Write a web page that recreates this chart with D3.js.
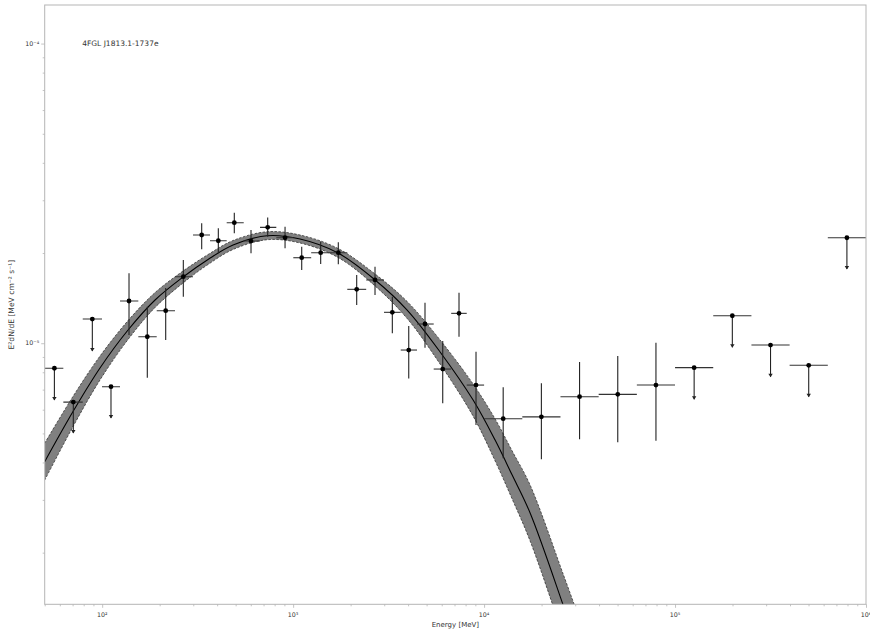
<!DOCTYPE html>
<html>
<head>
<meta charset="utf-8">
<title></title>
<script src="https://cdnjs.cloudflare.com/ajax/libs/d3/7.8.5/d3.min.js"></script>
<style>
  body { margin: 0; background: #fff; }
  svg { display: block; }
  text { font-family: "DejaVu Sans", sans-serif; fill: #333; }
</style>
</head>
<body>
<script>

// SED points (energy bin centre and edges in MeV, E^2 dN/dE in MeV cm^-2 s^-1)
const energy = [56.2, 70.6, 88.8, 111.2, 138.2, 172.3, 215.1, 266.0, 332.0, 405.7, 491.9, 601.7,
  735.8, 907.1, 1109, 1394, 1724, 2152, 2684, 3307, 4031, 4904, 6073, 7390, 9072,
  12589, 19953, 31623, 50119, 79433, 125893, 199526, 316228, 501187, 794328];
const eLow = [50.2, 62.6, 79.1, 99.8, 124.0, 154.6, 193.0, 240.6, 299.0, 367.0, 448.8, 551.1,
  670.8, 816.3, 1002, 1243, 1536, 1921, 2413, 2991, 3660, 4453, 5447, 6726, 8110,
  10000, 15849, 25119, 39811, 63096, 100000, 158489, 251189, 398107, 630957];
const eHigh = [62.6, 79.1, 99.8, 124.0, 154.6, 193.0, 240.6, 299.0, 367.0, 448.8, 551.1, 670.8,
  816.3, 1002, 1243, 1536, 1921, 2413, 2991, 3660, 4453, 5447, 6726, 8110, 10000,
  15849, 25119, 39811, 63096, 100000, 158489, 251189, 398107, 630957, 1000000];
const flux = [8.25e-6, 6.36e-6, 1.204e-5, 7.16e-6, 1.383e-5, 1.051e-5, 1.284e-5, 1.667e-5,
  2.297e-5, 2.198e-5, 2.525e-5, 2.193e-5, 2.436e-5, 2.249e-5, 1.929e-5, 2.005e-5, 2.005e-5,
  1.513e-5, 1.626e-5, 1.268e-5, 9.49e-6, 1.159e-5, 8.20e-6, 1.258e-5, 7.25e-6,
  5.60e-6, 5.68e-6, 6.63e-6, 6.75e-6, 7.25e-6, 8.29e-6, 1.235e-5, 9.86e-6, 8.44e-6, 2.249e-5];
// lower end of the error bar (or tip of the arrow for upper limits)
const fluxLo = [6.46e-6, 5.02e-6, 9.42e-6, 5.63e-6, 1.065e-5, 7.67e-6, 1.025e-5, 1.429e-5,
  2.058e-5, 1.995e-5, 2.327e-5, 1.995e-5, 2.267e-5, 2.074e-5, 1.755e-5, 1.838e-5, 1.834e-5,
  1.341e-5, 1.448e-5, 1.079e-5, 7.63e-6, 9.66e-6, 6.30e-6, 1.051e-5, 5.33e-6,
  4.13e-6, 4.10e-6, 4.78e-6, 4.67e-6, 4.73e-6, 6.50e-6, 9.69e-6, 7.73e-6, 6.63e-6, 1.768e-5];
// upper end of the error bar, null for upper limits
const fluxHi = [null, null, null, null, 1.711e-5, 1.324e-5, 1.529e-5, 1.895e-5,
  2.513e-5, 2.418e-5, 2.726e-5, 2.387e-5, 2.630e-5, 2.448e-5, 2.100e-5, 2.182e-5, 2.172e-5,
  1.689e-5, 1.800e-5, 1.429e-5, 1.141e-5, 1.365e-5, 1.017e-5, 1.474e-5, 9.37e-6,
  7.13e-6, 7.35e-6, 8.66e-6, 9.06e-6, 1.004e-5, null, null, null, null, null];

// model curve and its 1 sigma band
const modelE = [50.0, 70.6, 97.4, 136.6, 189.2, 265.2, 358.4, 484.6, 730.3, 1087, 1719, 2687,
  3954, 5884, 8761, 11420, 14030, 17420, 25940, 29990];
const modelF = [4.024e-6, 5.94e-6, 8.27e-6, 1.107e-5, 1.394e-5, 1.663e-5, 1.903e-5, 2.127e-5,
  2.284e-5, 2.227e-5, 2.000e-5, 1.626e-5, 1.290e-5, 9.35e-6, 6.46e-6, 4.75e-6, 3.63e-6,
  2.713e-6, 1.338e-6, 1.022e-6];
const modelLo = [3.49e-6, 5.29e-6, 7.54e-6, 1.029e-5, 1.316e-5, 1.589e-5, 1.831e-5, 2.055e-5,
  2.215e-5, 2.160e-5, 1.932e-5, 1.552e-5, 1.209e-5, 8.52e-6, 5.71e-6, 4.05e-6, 3.02e-6,
  2.188e-6, 1.054e-6, 7.94e-7];
const modelHi = [4.64e-6, 6.67e-6, 9.06e-6, 1.190e-5, 1.476e-5, 1.742e-5, 1.977e-5, 2.202e-5,
  2.355e-5, 2.297e-5, 2.071e-5, 1.702e-5, 1.378e-5, 1.025e-5, 7.31e-6, 5.59e-6, 4.37e-6,
  3.363e-6, 1.698e-6, 1.317e-6];

const xTicks = [1e2, 1e3, 1e4, 1e5, 1e6];
const xTickLabels = ["10\u00b2", "10\u00b3", "10\u2074", "10\u2075", "10\u2076"];
const yTicks = [1e-5, 1e-4];
const yTickLabels = ["10\u207b\u2075", "10\u207b\u2074"];
const sourceName = "4FGL J1813.1-1737e";
const xTitle = "Energy [MeV]";
const yTitle = "E\u00b2dN/dE [MeV cm\u207b\u00b2 s\u207b\u00b9]";

let outerWidth = 870;
let outerHeight = 635;
let margin = { left: 44.7, top: 5, right: 4, bottom: 30.7 };
let innerWidth = outerWidth - margin.left - margin.right;
let innerHeight = outerHeight - margin.top - margin.bottom;

let svg = d3.select("body").append("svg")
  .attr("width", outerWidth)
  .attr("height", outerHeight);

let g = svg.append("g")
  .attr("transform", "translate(" + margin.left + "," + margin.top + ")");

let xScale = d3.scaleLog().domain([50, 1e6]).range([0, innerWidth]);
let yScale = d3.scaleLog().domain([1.345e-6, 1.345e-4]).range([innerHeight, 0]);

g.append("clipPath").attr("id", "clip")
  .append("rect").attr("width", innerWidth).attr("height", innerHeight);

let plot = g.append("g").attr("clip-path", "url(#clip)");

// model band
let model = modelE.map((e, i) => ({ e: e, f: modelF[i], lo: modelLo[i], hi: modelHi[i] }));

let area = d3.area()
  .x(d => xScale(d.e))
  .y0(d => yScale(d.lo))
  .y1(d => yScale(d.hi))
  .curve(d3.curveCatmullRom);

plot.append("path")
  .attr("d", area(model))
  .attr("fill", "#808080")
  .attr("stroke", "none");

["lo", "hi"].forEach(k => {
  plot.append("path")
    .attr("d", d3.line().x(d => xScale(d.e)).y(d => yScale(d[k])).curve(d3.curveCatmullRom)(model))
    .attr("fill", "none")
    .attr("stroke", "#222")
    .attr("stroke-width", 0.7)
    .attr("stroke-dasharray", "2.5,1.5");
});

plot.append("path")
  .attr("d", d3.line().x(d => xScale(d.e)).y(d => yScale(d.f)).curve(d3.curveCatmullRom)(model))
  .attr("fill", "none")
  .attr("stroke", "#000")
  .attr("stroke-width", 1.1);

// data points
let points = energy.map((e, i) => ({
  e: e, lo: eLow[i], hi: eHigh[i], f: flux[i], fLo: fluxLo[i], fHi: fluxHi[i], ul: fluxHi[i] === null
}));

let pts = plot.selectAll(".pt").data(points).enter().append("g").attr("class", "pt");

pts.append("line")
  .attr("x1", d => xScale(d.lo)).attr("x2", d => xScale(d.hi))
  .attr("y1", d => yScale(d.f)).attr("y2", d => yScale(d.f))
  .attr("stroke", "#333").attr("stroke-width", 1.1);

pts.append("line")
  .attr("x1", d => xScale(d.e)).attr("x2", d => xScale(d.e))
  .attr("y1", d => yScale(d.ul ? d.f : d.fHi)).attr("y2", d => yScale(d.fLo))
  .attr("stroke", "#222").attr("stroke-width", 1.1);

pts.filter(d => d.ul).append("path")
  .attr("d", d => {
    let x = xScale(d.e), y = yScale(d.fLo);
    return "M" + (x - 2.2) + "," + (y - 3) + "L" + (x + 2.2) + "," + (y - 3) + "L" + x + "," + (y + 0.5) + "Z";
  })
  .attr("fill", "#222");

pts.append("circle")
  .attr("cx", d => xScale(d.e)).attr("cy", d => yScale(d.f))
  .attr("r", 2.4).attr("fill", "#000");

// axes
let tickColor = "#b5b5b5";
let xMinor = [], yMinor = [];
[10, 100, 1000, 10000, 100000].forEach(d => {
  for (let k = 2; k <= 9; k++) if (d * k >= 50 && d * k < 1e6) xMinor.push(d * k);
});
[1e-6, 1e-5, 1e-4].forEach(d => {
  for (let k = 2; k <= 9; k++) if (d * k >= 1.345e-6 && d * k <= 1.345e-4) yMinor.push(d * k);
});

function styleAxis(sel) {
  sel.select(".domain").remove();
  sel.selectAll("line").attr("stroke", tickColor).attr("stroke-width", 0.8);
  sel.selectAll("text").remove();
}

g.append("g").attr("transform", "translate(0," + innerHeight + ")")
  .call(d3.axisBottom(xScale).tickValues(xTicks).tickSize(3.5).tickFormat("")).call(styleAxis);
g.append("g").attr("transform", "translate(0," + innerHeight + ")")
  .call(d3.axisBottom(xScale).tickValues(xMinor).tickSize(2).tickFormat("")).call(styleAxis);
g.append("g")
  .call(d3.axisLeft(yScale).tickValues(yTicks).tickSize(3.5).tickFormat("")).call(styleAxis);
g.append("g")
  .call(d3.axisLeft(yScale).tickValues(yMinor).tickSize(2).tickFormat("")).call(styleAxis);

g.append("rect")
  .attr("width", innerWidth).attr("height", innerHeight)
  .attr("fill", "none").attr("stroke", tickColor).attr("stroke-width", 1);

// tick labels
g.selectAll(".xlab").data(xTicks).enter().append("text")
  .attr("class", "xlab")
  .attr("x", d => xScale(d)).attr("y", innerHeight + 12.5)
  .attr("text-anchor", "middle").attr("font-size", 6.3)
  .text((d, i) => xTickLabels[i]);

g.selectAll(".ylab").data(yTicks).enter().append("text")
  .attr("class", "ylab")
  .attr("x", -5.5).attr("y", d => yScale(d) + 2.2)
  .attr("text-anchor", "end").attr("font-size", 6.3)
  .text((d, i) => yTickLabels[i]);

// axis titles
g.append("text")
  .attr("x", innerWidth / 2).attr("y", innerHeight + 22.5)
  .attr("text-anchor", "middle").attr("font-size", 7)
  .text(xTitle);

g.append("text")
  .attr("transform", "translate(" + (-30.5) + "," + (innerHeight / 2) + ") rotate(-90)")
  .attr("text-anchor", "middle").attr("font-size", 7.6)
  .text(yTitle);

g.append("text")
  .attr("x", 37.5).attr("y", 41)
  .attr("font-size", 7.5)
  .text(sourceName);

</script>
</body>
</html>
